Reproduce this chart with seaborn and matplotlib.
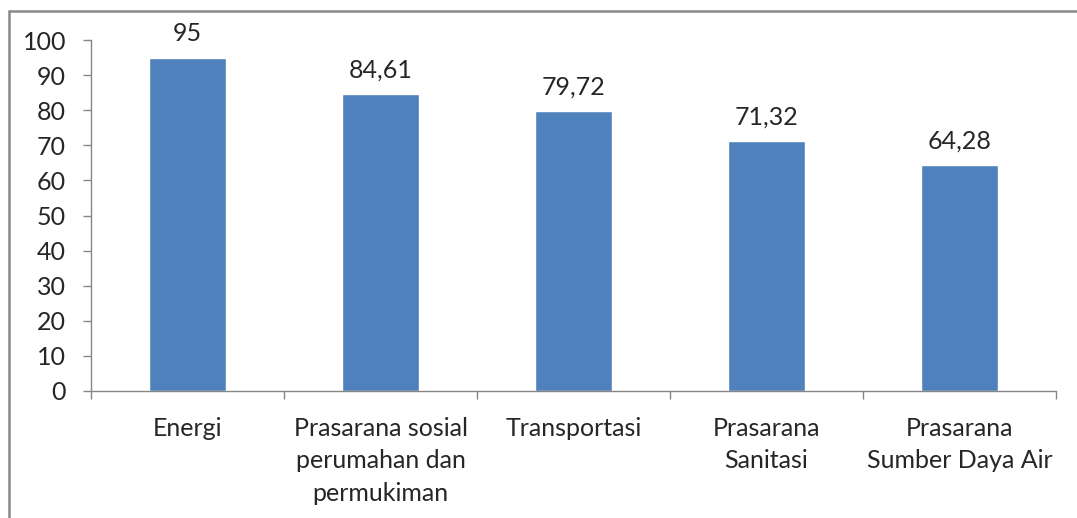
import matplotlib
matplotlib.use("Agg")
import matplotlib.pyplot as plt
import seaborn as sns
import pandas as pd
from matplotlib.lines import Line2D

categories = ["Energi", "Prasarana sosial\nperumahan dan\npermukiman", "Transportasi",
              "Prasarana\nSanitasi", "Prasarana\nSumber Daya Air"]
values = [95, 84.61, 79.72, 71.32, 64.28]
value_labels = ["95", "84,61", "79,72", "71,32", "64,28"]
yticks = [0, 10, 20, 30, 40, 50, 60, 70, 80, 90, 100]

sns.set_theme(style="white")
plt.rcParams['font.family'] = ['Lato', 'DejaVu Sans']

df = pd.DataFrame({"cat": categories, "val": values})

fig = plt.figure(figsize=(10.77, 5.18), dpi=100)
ax = fig.add_axes([91/1077, 1-391/518, (1056-91)/1077, (391-40)/518])
sns.barplot(data=df, x="cat", y="val", color="#4F81BD", saturation=1, width=0.4, ax=ax)

ax.set_ylim(0, 100)
ax.set_xlim(-0.5, 4.5)
ax.set_yticks(yticks)
ax.set_yticklabels([str(t) for t in yticks], fontsize=18)
ax.set_xlabel("")
ax.set_ylabel("")

ax.set_xticks([i - 0.5 for i in range(6)])
ax.set_xticklabels([""] * 6)
ax.tick_params(axis="x", length=6, color="#868686", width=1, direction="out", bottom=True)
ax.tick_params(axis="y", length=6, color="#868686", width=1, direction="out", left=True, pad=12)
for i, c in enumerate(categories):
    ax.text(i, -7.5, c, ha="center", va="top", fontsize=18, linespacing=1.48,
            transform=ax.transData)

for s in ["top", "right"]:
    ax.spines[s].set_visible(False)
for s in ["left", "bottom"]:
    ax.spines[s].set_color("#868686")
    ax.spines[s].set_linewidth(1)

for i, (v, lab) in enumerate(zip(values, value_labels)):
    ax.annotate(lab, (i, v), xytext=(0, 9), textcoords="offset points",
                ha="center", va="bottom", fontsize=18)

fig.add_artist(Line2D([8.5/1077, 1], [1-10.5/518, 1-10.5/518], transform=fig.transFigure,
                      color="#898989", lw=1.8))
fig.add_artist(Line2D([8.5/1077, 8.5/1077], [0, 1-10.5/518], transform=fig.transFigure,
                      color="#898989", lw=1.8))

fig.savefig("out.png", dpi=100)
